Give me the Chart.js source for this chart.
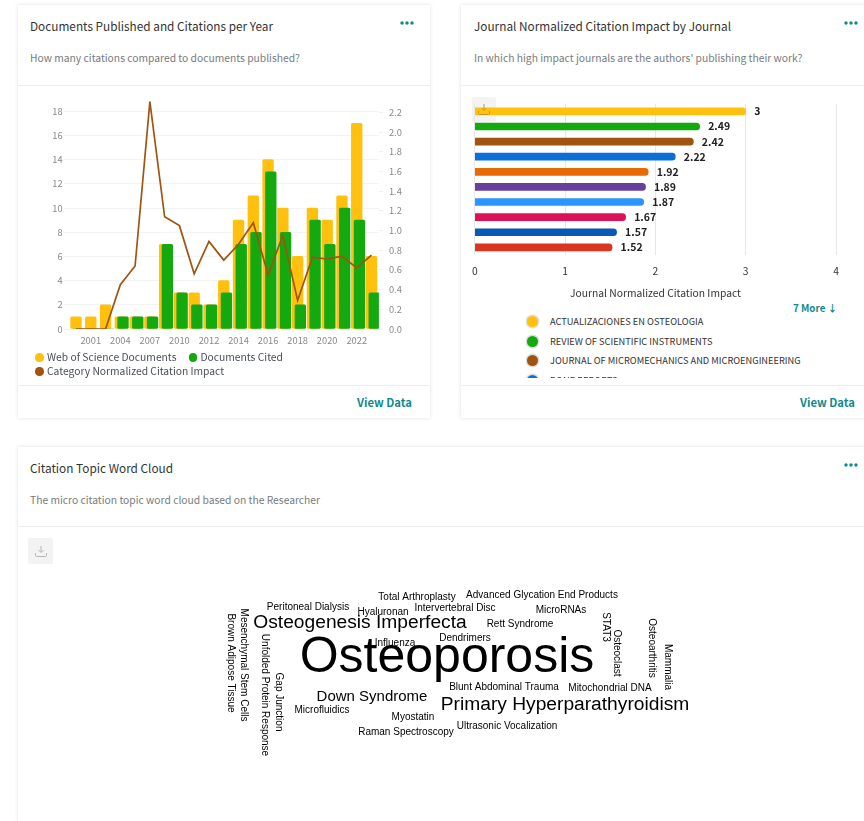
<!DOCTYPE html>
<html>
<head>
<meta charset="utf-8">
<script src="https://cdn.jsdelivr.net/npm/chart.js@4"></script>
<style>
html,body{margin:0;padding:0;background:#fff;width:864px;height:821px;overflow:hidden;font-family:"Noto Sans CJK SC","Noto Sans",sans-serif;}
.card{position:absolute;background:#fff;box-shadow:0 0 4px rgba(0,0,0,.13);}
.t{position:absolute;white-space:nowrap;line-height:1;}
.title{font-size:11.8px;color:#333;}
.sub{font-size:10.3px;color:#777b80;}
.rule{position:absolute;height:1px;background:#eeeeee;}
.view{font-size:11.3px;font-weight:700;color:#0f8a8c;}
.dots{position:absolute;width:14px;height:4px;}
.dl{position:absolute;background:#f3f3f3;border-radius:2px;}
canvas{position:absolute;}
#jlegend{position:absolute;left:526px;top:312px;width:330px;height:66px;overflow:hidden;}
.li{position:relative;height:19.6px;font-size:9.25px;color:#333;}
.li i{position:absolute;left:1px;top:4px;width:11px;height:11px;border-radius:50%;box-shadow:0 0 0 1.5px rgba(0,0,0,.13);}
.li span{position:absolute;left:24px;top:5px;white-space:nowrap;line-height:1;}
.yl{position:absolute;height:10px;font-size:10.3px;line-height:10px;color:#4a4f57;white-space:nowrap;}
.yl i{position:absolute;left:0;top:1px;width:8.500px;height:8.500px;border-radius:50%;}
.yl span{position:absolute;left:12px;top:0;}
</style>
</head>
<body>
<div class="card" style="left:18px;top:5px;width:412px;height:413px"></div>
<div class="card" style="left:461px;top:5px;width:420px;height:413px"></div>
<div class="card" style="left:18px;top:447px;width:863px;height:400px"></div>

<div class="t title" style="left:30px;top:20px">Documents Published and Citations per Year</div>
<div class="t sub" style="left:30px;top:53px">How many citations compared to documents published?</div>
<div class="rule" style="left:18px;top:85px;width:412px"></div>
<div class="rule" style="left:18px;top:385px;width:412px"></div>
<div class="t view" style="left:357px;top:397px">View Data</div>

<div class="t title" style="left:474px;top:20px">Journal Normalized Citation Impact by Journal</div>
<div class="t sub" style="left:474px;top:53px">In which high impact journals are the authors' publishing their work?</div>
<div class="rule" style="left:461px;top:85px;width:403px"></div>
<div class="rule" style="left:461px;top:385px;width:403px"></div>
<div class="t view" style="left:800px;top:397px">View Data</div>
<div class="t" style="left:793px;top:304px;font-size:9.8px;font-weight:700;color:#0f8a8c">7 More ↓</div>

<div class="t title" style="left:30px;top:462px">Citation Topic Word Cloud</div>
<div class="t sub" style="left:30px;top:495px">The micro citation topic word cloud based on the Researcher</div>
<div class="rule" style="left:18px;top:526px;width:846px"></div>

<svg class="dots" style="left:400px;top:21px" viewBox="0 0 14 4"><g fill="#0f8a8c"><circle cx="2" cy="2" r="1.7"/><circle cx="7" cy="2" r="1.7"/><circle cx="12" cy="2" r="1.7"/></g></svg>
<svg class="dots" style="left:844px;top:21px" viewBox="0 0 14 4"><g fill="#0f8a8c"><circle cx="2" cy="2" r="1.7"/><circle cx="7" cy="2" r="1.7"/><circle cx="12" cy="2" r="1.7"/></g></svg>
<svg class="dots" style="left:844px;top:463px" viewBox="0 0 14 4"><g fill="#0f8a8c"><circle cx="2" cy="2" r="1.7"/><circle cx="7" cy="2" r="1.7"/><circle cx="12" cy="2" r="1.7"/></g></svg>

<div class="dl" style="left:472px;top:97px;width:24px;height:25px"></div>
<div class="dl" style="left:28px;top:538px;width:25px;height:26px"></div>

<canvas id="c1" style="left:25px;top:90px" width="390" height="259"></canvas>
<canvas id="c2" style="left:462px;top:95px" width="402" height="205"></canvas>
<canvas id="c3" style="left:18px;top:531px" width="846" height="290"></canvas>

<svg style="position:absolute;left:477px;top:103px" width="14" height="13" viewBox="0 0 14 13" fill="none" stroke="#c89a2a" stroke-width="1"><path d="M7 1v6M4.500 5L7 7.500 9.500 5M1.500 8v2.500q0 1 1 1h9q1 0 1-1V8"/></svg>
<svg style="position:absolute;left:34px;top:545px" width="14" height="13" viewBox="0 0 14 13" fill="none" stroke="#b5b5b5" stroke-width="1"><path d="M7 1v6M4.500 5L7 7.500 9.500 5M1.500 8v2.500q0 1 1 1h9q1 0 1-1V8"/></svg>

<div class="yl" id="yl0" style="left:35px;top:352px"></div>
<div class="yl" id="yl1" style="left:188.500px;top:352px"></div>
<div class="yl" id="yl2" style="left:35px;top:366px"></div>
<div id="jlegend"></div>

<script>
// ---- Chart 1 data
const years = ["2000","2001","2003","2004","2006","2007","2009","2010","2011","2012","2013","2014","2015","2016","2017","2018","2019","2020","2021","2022","2023"];
const wosDocuments = [1,1,2,1,1,1,7,3,3,2,4,9,11,14,10,6,10,9,11,17,6];
const documentsCited = [0,0,0,1,1,1,7,3,2,2,3,7,8,13,8,2,9,7,10,9,3];
const categoryImpact = [0,0,0,0.45,0.64,2.31,1.14,1.05,0.56,0.89,0.7,0.86,1.08,0.55,0.95,0.29,0.73,0.71,0.74,0.62,0.75];
const leftTicks = [0,2,4,6,8,10,12,14,16,18];
const rightTicks = [0,0.2,0.4,0.6,0.8,1.0,1.2,1.4,1.6,1.8,2.0,2.2];

// ---- Chart 2 data
const journals = ["ACTUALIZACIONES EN OSTEOLOGIA","REVIEW OF SCIENTIFIC INSTRUMENTS","JOURNAL OF MICROMECHANICS AND MICROENGINEERING","BONE REPORTS","Journal 5","Journal 6","Journal 7","Journal 8","Journal 9","Journal 10"];
const journalImpact = [3,2.49,2.42,2.22,1.92,1.89,1.87,1.67,1.57,1.52];
const journalColors = ["#FFC10E","#13A90F","#A0540F","#0A6FD6","#E96A00","#663F9F","#2B95FF","#DC1259","#0958B5","#DD3420"];

// ---- Word cloud data
const words = ["Osteoporosis","Osteogenesis Imperfecta","Primary Hyperparathyroidism","Down Syndrome","Peritoneal Dialysis","Total Arthroplasty","Advanced Glycation End Products","Hyaluronan","Intervertebral Disc","MicroRNAs","Rett Syndrome","Influenza","Dendrimers","Blunt Abdominal Trauma","Mitochondrial DNA","Microfluidics","Myostatin","Raman Spectroscopy","Ultrasonic Vocalization","Brown Adipose Tissue","Mesenchymal Stem Cells","Unfolded Protein Response","Gap Junction","STAT3","Osteoclast","Osteoarthritis","Mammalia"];
const wordWeights = [50,19.2,19.2,15,10,10,10,10,10,10,10,10,10,10,10,10,10,10,10,10,10,10,10,10,10,10,10];
const wordVertical = [0,0,0,0,0,0,0,0,0,0,0,0,0,0,0,0,0,0,0,1,1,1,1,1,1,1,1];
const cloudX = [447,360,565,372,308,417,542,383,455,561,520,395,465,504,610,322,413,406,507,231,244,265,279,606,617,652,668];
const cloudY = [657,622,704,696,606,596,594,611,607,609,623,642,637,686,687,709,716,731,725,662,664,694,701,626,652,647,666];

// ---- Chart 1
const offsetCited = {
  id:'offsetCited',
  afterDatasetsUpdate(chart){
    chart.getDatasetMeta(1).data.forEach(b=>{b.x += 2.7;});
  }
};
const chart1 = new Chart(document.getElementById('c1'),{
  data:{
    labels:years,
    datasets:[
      {type:'bar',label:'Web of Science Documents',data:wosDocuments,backgroundColor:'#FFC10E',yAxisID:'yL',order:3,grouped:false,barThickness:10.7,borderRadius:1.5,borderSkipped:false},
      {type:'bar',label:'Documents Cited',data:documentsCited,backgroundColor:'#13A90F',yAxisID:'yL',order:2,grouped:false,barThickness:10.7,borderRadius:1.5,borderSkipped:false},
      {type:'line',label:'Category Normalized Citation Impact',data:categoryImpact,borderColor:'#A0540F',backgroundColor:'#A0540F',borderWidth:1.7,pointRadius:0,tension:0,yAxisID:'yR',order:1}
    ]
  },
  options:{
    responsive:false,animation:false,
    layout:{autoPadding:false,padding:{top:10,left:0,right:0,bottom:0}},
    plugins:{tooltip:{enabled:false},legend:{display:false}},
    scales:{
      x:{grid:{display:false,drawTicks:false},border:{display:false},
        ticks:{autoSkip:false,maxRotation:0,padding:6,color:'#85888d',font:{family:'"Noto Sans CJK SC"',size:9.3},
          callback(v,i){return i%2===1?years[i]:'';}},
        afterFit(s){s.height=20;}},
      yL:{position:'left',min:0,max:18.8,
        afterBuildTicks(a){a.ticks=leftTicks.map(v=>({value:v}));},
        grid:{color:'#f3f3f3',tickLength:5},border:{display:false},
        ticks:{padding:1,color:'#85888d',font:{family:'"Noto Sans CJK SC"',size:9.3},callback:v=>String(v)},
        afterFit(s){s.width=43.6;}},
      yR:{position:'right',min:0,max:2.31,
        afterBuildTicks(a){a.ticks=rightTicks.map(v=>({value:v}));},
        grid:{drawOnChartArea:false,color:'#f0f0f0',tickLength:4},border:{display:false},
        ticks:{padding:6,color:'#85888d',font:{family:'"Noto Sans CJK SC"',size:9.3},callback:v=>v.toFixed(1)},
        afterFit(s){s.width=36.1;}}
    }
  },
  plugins:[offsetCited]
});
// legend built from the chart's datasets
chart1.data.datasets.forEach((ds,i)=>{
  const host=document.getElementById('yl'+i);
  const c=document.createElement('i');c.style.background=ds.backgroundColor;
  const s=document.createElement('span');s.textContent=ds.label;
  host.appendChild(c);host.appendChild(s);
});

// ---- Chart 2
const valueLabels = {
  id:'valueLabels',
  afterDatasetsDraw(chart){
    const ctx=chart.ctx;
    ctx.save();
    ctx.font='700 10.5px "Noto Sans CJK SC"';
    ctx.fillStyle='#222';
    ctx.textBaseline='middle';
    chart.getDatasetMeta(0).data.forEach((b,i)=>{ctx.fillText(String(journalImpact[i]),b.x+8.5,b.y);});
    ctx.restore();
  }
};
new Chart(document.getElementById('c2'),{
  type:'bar',
  data:{labels:journals,datasets:[{data:journalImpact,backgroundColor:journalColors,barThickness:7,borderRadius:4,borderSkipped:'start'}]},
  options:{
    indexAxis:'y',responsive:false,animation:false,
    layout:{autoPadding:false,padding:{top:8.8,right:28}},
    plugins:{legend:{display:false},tooltip:{enabled:false}},
    scales:{
      x:{min:0,max:4,
        grid:{color:'#e8e8e8',drawTicks:false},border:{display:false},
        ticks:{stepSize:1,padding:10,color:'#333',font:{family:'"Noto Sans CJK SC"',size:10.3}},
        title:{display:true,text:'Journal Normalized Citation Impact',color:'#333',font:{family:'"Noto Sans CJK SC"',size:10.3},padding:{top:0,bottom:1}},
        afterFit(s){s.height=45.1;}},
      y:{grid:{display:false},border:{display:false},ticks:{display:false},afterFit(s){s.width=12.7;}}
    }
  },
  plugins:[valueLabels]
});

// journal legend, built from the chart's arrays
const jl=document.getElementById('jlegend');
journals.slice(0,4).forEach((n,i)=>{
  const d=document.createElement('div');d.className='li';
  const c=document.createElement('i');c.style.background=journalColors[i];
  const s=document.createElement('span');s.textContent=n;
  d.appendChild(c);d.appendChild(s);jl.appendChild(d);
});

// ---- Word cloud drawn on hidden linear scales
const cloudWords = {
  id:'cloudWords',
  afterDatasetsDraw(chart){
    const ctx=chart.ctx;
    chart.getDatasetMeta(0).data.forEach((p,i)=>{
      ctx.save();
      ctx.translate(p.x,p.y);
      if(wordVertical[i]) ctx.rotate(Math.PI/2);
      ctx.font=wordWeights[i]+'px "Liberation Sans"';
      ctx.fillStyle='#000';
      ctx.textAlign='center';
      ctx.textBaseline='middle';
      ctx.fillText(words[i],0,0);
      ctx.restore();
    });
  }
};
new Chart(document.getElementById('c3'),{
  type:'scatter',
  data:{datasets:[{data:words.map((w,i)=>({x:cloudX[i],y:cloudY[i]})),pointRadius:0}]},
  options:{
    responsive:false,animation:false,
    layout:{autoPadding:false},
    plugins:{legend:{display:false},tooltip:{enabled:false}},
    scales:{
      x:{display:false,min:18,max:864},
      y:{display:false,min:530,max:820,reverse:true}
    }
  },
  plugins:[cloudWords]
});
</script>
</body>
</html>
